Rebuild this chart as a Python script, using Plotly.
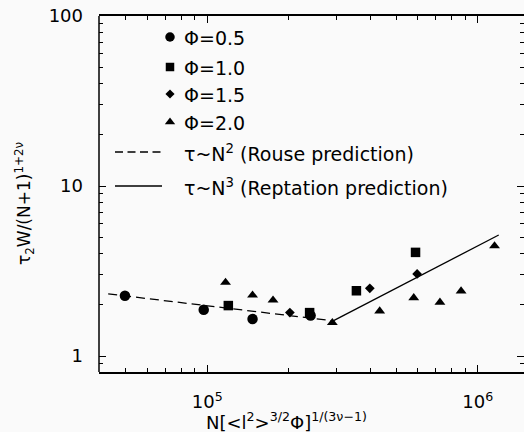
import plotly.graph_objects as go

# ---- data ----
x_phi05 = [4.96e4, 9.7e4, 1.47e5, 2.41e5]
y_phi05 = [2.26, 1.87, 1.65, 1.73]

x_phi10 = [1.196e5, 2.39e5, 3.56e5, 5.89e5]
y_phi10 = [1.98, 1.80, 2.42, 4.07]

x_phi15 = [2.02e5, 3.99e5, 5.97e5]
y_phi15 = [1.80, 2.50, 3.04]

x_phi20 = [1.168e5, 1.47e5, 1.75e5, 2.90e5, 4.34e5, 5.80e5, 7.25e5, 8.68e5, 1.154e6]
y_phi20 = [2.71, 2.28, 2.13, 1.57, 1.84, 2.20, 2.07, 2.41, 4.44]

x_rouse = [4.3e4, 2.92e5]
y_rouse = [2.32, 1.61]

x_rept = [2.92e5, 1.196e6]
y_rept = [1.61, 5.15]

legend_labels = ["Φ=0.5", "Φ=1.0", "Φ=1.5", "Φ=2.0",
                 "τ~N<sup>2</sup> (Rouse prediction)",
                 "τ~N<sup>3</sup> (Reptation prediction)"]

FONT = "DejaVu Sans"
FS = 18
BG = "#fafafa"

fig = go.Figure()

fig.add_trace(go.Scatter(x=x_rouse, y=y_rouse, mode="lines",
                         line=dict(color="black", width=1.3, dash="9px,5px"), showlegend=False))
fig.add_trace(go.Scatter(x=x_rept, y=y_rept, mode="lines",
                         line=dict(color="black", width=1.3), showlegend=False))
fig.add_trace(go.Scatter(x=x_phi05, y=y_phi05, mode="markers",
                         marker=dict(symbol="circle", size=10.5, color="black"), showlegend=False))
fig.add_trace(go.Scatter(x=x_phi10, y=y_phi10, mode="markers",
                         marker=dict(symbol="square", size=9.5, color="black"), showlegend=False))
fig.add_trace(go.Scatter(x=x_phi15, y=y_phi15, mode="markers",
                         marker=dict(symbol="diamond", size=7.5, color="black"), showlegend=False))
fig.add_trace(go.Scatter(x=x_phi20, y=y_phi20, mode="markers",
                         marker=dict(symbol="triangle-up", size=9.5, color="black"), showlegend=False))

# ---- manual legend on pixel-coordinate overlay axes ----
sym_x = 170
row_y = [37, 67, 94, 122, 152, 186]
symbols = ["circle", "square", "diamond", "triangle-up"]
sizes = [9.5, 8.5, 7, 9]
for i, (s, sz) in enumerate(zip(symbols, sizes)):
    fig.add_trace(go.Scatter(x=[sym_x], y=[row_y[i]], mode="markers", xaxis="x2", yaxis="y2",
                             marker=dict(symbol=s, size=sz, color="black"), showlegend=False,
                             hoverinfo="skip"))
fig.add_trace(go.Scatter(x=[115, 162], y=[row_y[4]] * 2, mode="lines", xaxis="x2", yaxis="y2",
                         line=dict(color="black", width=1.3, dash="8px,4.5px"), showlegend=False,
                         hoverinfo="skip"))
fig.add_trace(go.Scatter(x=[115, 162], y=[row_y[5]] * 2, mode="lines", xaxis="x2", yaxis="y2",
                         line=dict(color="black", width=1.3), showlegend=False, hoverinfo="skip"))

annotations = []
for lab, yy in zip(legend_labels, row_y):
    annotations.append(dict(x=182, y=yy + 1, xref="x2", yref="y2", text=lab, showarrow=False,
                            xanchor="left", yanchor="middle",
                            font=dict(family=FONT, size=19, color="black")))

annotations.append(dict(x=(286 - 99) / 425, y=-(421 - 372) / 356, xref="paper", yref="paper",
                        text="N[<l<sup>2</sup>><sup>3/2</sup>Φ]<sup>1/(3ν−1)</sup>",
                        showarrow=False, xanchor="center", yanchor="middle",
                        font=dict(family=FONT, size=FS, color="black")))
annotations.append(dict(x=-(99 - 24) / 425, y=(372 - 203) / 356, xref="paper", yref="paper",
                        text="τ<sub>2</sub>W/(N+1)<sup>1+2ν</sup>", textangle=-90,
                        showarrow=False, xanchor="center", yanchor="middle",
                        font=dict(family=FONT, size=17, color="black")))

axis_common = dict(showgrid=False, zeroline=False, linecolor="black", linewidth=1.5,
                   mirror="allticks", ticks="inside", ticklen=7, tickwidth=1.2, tickcolor="black",
                   tickfont=dict(family=FONT, size=FS, color="black"))

fig.update_layout(
    width=524, height=432,
    margin=dict(l=99, r=0, t=16, b=60),
    paper_bgcolor=BG, plot_bgcolor=BG,
    showlegend=False,
    xaxis=dict(type="log", range=[4.5995, 6.1712], showline=True,
               tickvals=[1e5, 1e6], ticktext=["10<sup>5</sup>", "10<sup>6</sup>"],
               ticklabelstandoff=13,
               minor=dict(ticks="inside", ticklen=4, tickwidth=1.2, tickcolor="black", dtick="D1"),
               **axis_common),
    yaxis=dict(type="log", range=[-0.094, 2], showline=False,
               tickvals=[1, 10, 100], ticktext=["1", "10", "100"],
               ticklabelstandoff=15,
               minor=dict(ticks="inside", ticklen=4, tickwidth=1.2, tickcolor="black", dtick="D1"),
               **axis_common),
    xaxis2=dict(overlaying="x", range=[99, 524], visible=False, fixedrange=True),
    yaxis2=dict(overlaying="y", range=[372, 16], visible=False, fixedrange=True),
    annotations=annotations,
    shapes=[dict(type="line", xref="paper", yref="paper", x0=0, x1=0, y0=0, y1=1,
                 line=dict(color="black", width=1.5))],
)

fig.write_html("out.html")
